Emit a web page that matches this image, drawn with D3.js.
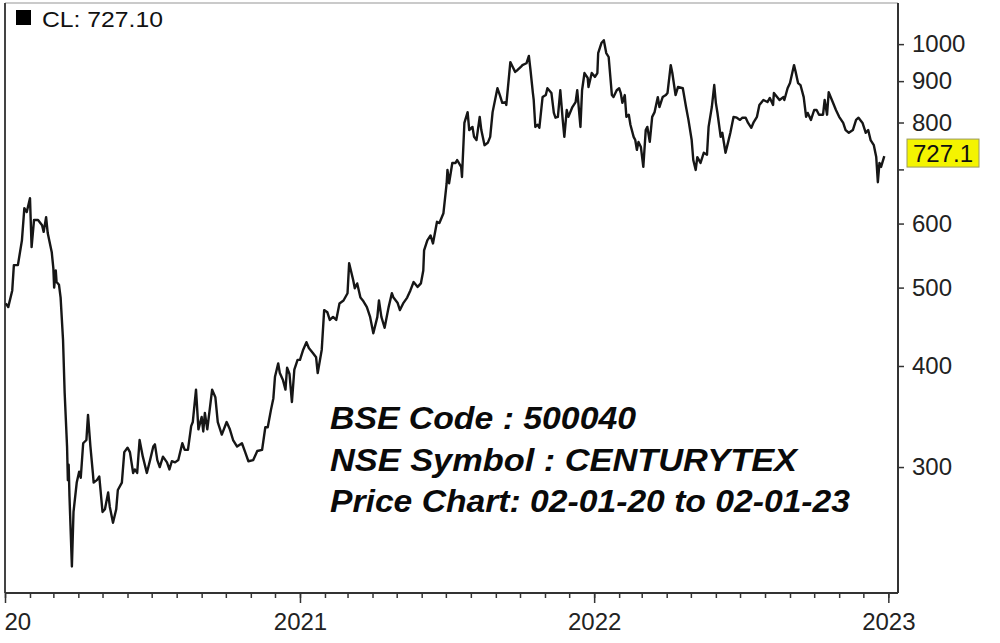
<!DOCTYPE html>
<html>
<head>
<meta charset="utf-8">
<script src="https://cdn.jsdelivr.net/npm/d3@7"></script>
<style>
  html, body { margin: 0; padding: 0; background: #fff; }
  svg { display: block; }
  text { font-family: Arial, "Liberation Sans", sans-serif; }
</style>
</head>
<body>
<svg id="chart" width="1000" height="643"></svg>
<script>
// ---------- DATA ----------
const dates = [
"2020-01-02","2020-01-05","2020-01-10","2020-01-12","2020-01-17","2020-01-22","2020-01-25","2020-01-28","2020-02-01","2020-02-03",
"2020-02-06","2020-02-11","2020-02-16","2020-02-18","2020-02-21","2020-02-23","2020-02-28","2020-03-01","2020-03-02","2020-03-04",
"2020-03-05","2020-03-08","2020-03-10","2020-03-13","2020-03-15","2020-03-18","2020-03-19","2020-03-20","2020-03-21","2020-03-24",
"2020-03-26","2020-03-30","2020-04-02","2020-04-04","2020-04-07","2020-04-11","2020-04-13","2020-04-16","2020-04-19","2020-04-20",
"2020-04-24","2020-04-27","2020-05-01","2020-05-04","2020-05-08","2020-05-10","2020-05-14","2020-05-18","2020-05-20","2020-05-25",
"2020-05-28","2020-06-01","2020-06-04","2020-06-08","2020-06-10","2020-06-13","2020-06-16","2020-06-20","2020-06-25","2020-06-29",
"2020-07-03","2020-07-05","2020-07-08","2020-07-11","2020-07-15","2020-07-20","2020-07-23","2020-07-26","2020-07-30","2020-08-03",
"2020-08-08","2020-08-11","2020-08-15","2020-08-19","2020-08-21","2020-08-25","2020-08-28","2020-09-01","2020-09-03","2020-09-05",
"2020-09-08","2020-09-14","2020-09-18","2020-09-21","2020-09-26","2020-10-02","2020-10-06","2020-10-10","2020-10-15","2020-10-21",
"2020-10-25","2020-10-29","2020-11-04","2020-11-09","2020-11-15","2020-11-19","2020-11-22","2020-11-26","2020-11-29","2020-12-01",
"2020-12-05","2020-12-07","2020-12-11","2020-12-14","2020-12-16","2020-12-19","2020-12-22","2020-12-25","2020-12-29","2021-01-01",
"2021-01-05","2021-01-09","2021-01-12","2021-01-17","2021-01-21","2021-01-23","2021-01-28","2021-01-31","2021-02-04","2021-02-07",
"2021-02-11","2021-02-15","2021-02-19","2021-02-24","2021-03-01","2021-03-03","2021-03-08","2021-03-10","2021-03-13","2021-03-17",
"2021-03-20","2021-03-25","2021-03-29","2021-04-02","2021-04-07","2021-04-09","2021-04-12","2021-04-16","2021-04-21","2021-04-25",
"2021-04-27","2021-05-02","2021-05-05","2021-05-09","2021-05-14","2021-05-18","2021-05-22","2021-05-27","2021-05-31","2021-06-03",
"2021-06-04","2021-06-08","2021-06-12","2021-06-15","2021-06-20","2021-06-23","2021-06-28","2021-07-02","2021-07-03","2021-07-05",
"2021-07-09","2021-07-13","2021-07-15","2021-07-20","2021-07-21","2021-07-24","2021-07-28","2021-07-30","2021-08-03","2021-08-05",
"2021-08-08","2021-08-12","2021-08-14","2021-08-18","2021-08-22","2021-08-25","2021-08-28","2021-09-03","2021-09-06","2021-09-09",
"2021-09-13","2021-09-14","2021-09-19","2021-09-22","2021-09-25","2021-09-28","2021-10-02","2021-10-04","2021-10-09","2021-10-12",
"2021-10-14","2021-10-17","2021-10-18","2021-10-20","2021-10-23","2021-10-25","2021-10-29","2021-11-02","2021-11-04","2021-11-09",
"2021-11-12","2021-11-14","2021-11-17","2021-11-20","2021-11-23","2021-11-25","2021-11-28","2021-11-30","2021-12-05","2021-12-09",
"2021-12-11","2021-12-15","2021-12-17","2021-12-20","2021-12-24","2021-12-25","2021-12-29","2022-01-02","2022-01-05","2022-01-06",
"2022-01-10","2022-01-13","2022-01-16","2022-01-19","2022-01-23","2022-01-25","2022-01-29","2022-02-01","2022-02-03","2022-02-05",
"2022-02-08","2022-02-10","2022-02-13","2022-02-15","2022-02-19","2022-02-21","2022-02-23","2022-02-25","2022-02-28","2022-03-03",
"2022-03-06","2022-03-08","2022-03-11","2022-03-14","2022-03-17","2022-03-21","2022-03-23","2022-03-27","2022-03-31","2022-04-02",
"2022-04-06","2022-04-08","2022-04-12","2022-04-15","2022-04-21","2022-04-25","2022-04-28","2022-05-02","2022-05-04","2022-05-07",
"2022-05-09","2022-05-13","2022-05-17","2022-05-21","2022-05-23","2022-05-27","2022-05-30","2022-06-01","2022-06-03","2022-06-07",
"2022-06-09","2022-06-13","2022-06-16","2022-06-19","2022-06-23","2022-06-27","2022-07-01","2022-07-04","2022-07-08","2022-07-11",
"2022-07-15","2022-07-18","2022-07-22","2022-07-25","2022-07-30","2022-08-04","2022-08-07","2022-08-11","2022-08-12","2022-08-17",
"2022-08-19","2022-08-24","2022-08-25","2022-08-29","2022-09-01","2022-09-06","2022-09-08","2022-09-11","2022-09-14","2022-09-18",
"2022-09-21","2022-09-23","2022-09-27","2022-10-01","2022-10-04","2022-10-07","2022-10-12","2022-10-14","2022-10-17","2022-10-19",
"2022-10-24","2022-10-28","2022-11-01","2022-11-06","2022-11-09","2022-11-13","2022-11-18","2022-11-22","2022-11-25","2022-11-30",
"2022-12-04","2022-12-07","2022-12-10","2022-12-14","2022-12-17","2022-12-19","2022-12-21","2022-12-23","2022-12-27"
];
const closes = [
478,473,496,533,533,572,627,620,645,561,
606,606,597,586,611,584,553,528,500,525,
508,504,486,431,371,318,289,302,276,226,
264,287,296,291,321,324,348,318,295,287,
289,292,264,266,279,268,256,266,281,287,
313,317,313,295,298,295,324,309,295,306,
318,320,306,300,309,304,298,305,304,306,
321,315,315,337,341,374,334,346,332,350,
334,374,366,341,329,341,334,324,318,321,
313,305,306,314,315,336,336,353,365,388,
403,392,384,374,398,391,361,396,407,407,
419,428,421,415,410,392,419,469,466,456,
460,456,478,482,492,536,511,499,506,486,
482,473,460,439,460,482,460,446,473,492,
486,479,469,478,486,496,508,501,506,525,
556,572,580,567,603,601,618,673,699,673,
713,713,719,705,685,799,824,783,790,768,
761,813,783,750,755,768,824,882,865,846,
848,841,950,937,924,929,937,942,947,967,
929,870,853,790,795,788,860,865,882,870,
822,811,813,877,806,768,829,813,836,848,
877,790,877,921,908,885,921,911,921,975,
1003,1011,975,964,865,860,877,882,870,846,
865,813,818,795,768,761,740,757,746,705,
783,790,757,813,824,860,836,860,865,870,
942,921,865,885,882,836,806,761,719,699,
725,713,734,730,790,836,890,846,822,768,
777,734,755,777,813,811,806,811,811,799,
788,801,813,841,853,848,858,841,870,858,
853,860,853,882,895,942,924,895,890,860,
813,822,806,829,829,818,818,853,818,872,
848,829,813,799,783,777,783,806,811,799,
777,783,761,750,725,675,713,705,727.1
];
const yTickValues = [300, 400, 500, 600, 700, 800, 900, 1000];
const hiddenTickLabels = [700];           // covered by the last-price box
const xYearTicks = ["2020-01-01", "2021-01-01", "2022-01-01", "2023-01-01"];
const xYearLabels = ["20", "2021", "2022", "2023"];   // first label shows only "20" at the left edge
const lastClose = 727.1;
const legendText = "CL: 727.10";
const infoLines = ["BSE Code : 500040", "NSE Symbol : CENTURYTEX", "Price Chart: 02-01-20 to 02-01-23"];

// ---------- CHART ----------
(function () {
const svg = d3.select("#chart");
const parse = d3.timeParse("%Y-%m-%d");
const data = dates.map((d, i) => ({ date: parse(d), v: closes[i] }));

const pL = 5, pR = 898, pT = 4, pB = 593;

const x = d3.scaleTime()
  .domain([parse("2020-01-01"), parse("2023-01-13")])
  .range([pL, pR]);
const y = d3.scaleLog()
  .domain([209.6, 1121])
  .range([pB, pT]);

// frame
svg.append("line").attr("x1", pL).attr("x2", pR).attr("y1", pT - 1).attr("y2", pT - 1)
  .attr("stroke", "#b8b8b8").attr("stroke-width", 1.5);
svg.append("line").attr("x1", pL).attr("x2", pL).attr("y1", pT - 1).attr("y2", pB)
  .attr("stroke", "#444").attr("stroke-width", 2);

// price line
const line = d3.line().x(d => x(d.date)).y(d => y(d.v)).curve(d3.curveLinear);
svg.append("path").datum(data)
  .attr("d", line)
  .attr("fill", "none")
  .attr("stroke", "#161616")
  .attr("stroke-width", 2.4)
  .attr("stroke-linejoin", "round");

// right axis
const yAxis = d3.axisRight(y)
  .tickValues(yTickValues)
  .tickSize(6)
  .tickPadding(8)
  .tickFormat(v => hiddenTickLabels.includes(v) ? "" : d3.format("d")(v));
const ya = svg.append("g").attr("transform", `translate(${pR},0)`).call(yAxis);
ya.select(".domain").attr("stroke", "#333").attr("stroke-width", 2).attr("d", `M0,${pT - 1}V${pB}`);
ya.selectAll(".tick line").attr("stroke", "#333").attr("stroke-width", 1.5);
ya.selectAll(".tick text").attr("font-size", 24).attr("fill", "#222")
  .attr("font-family", "Arial, 'Liberation Sans', sans-serif");

// bottom axis: monthly minor ticks
const monthTicks = d3.timeMonth.range(parse("2020-01-01"), parse("2023-01-02"));
const xMinor = d3.axisBottom(x).tickValues(monthTicks).tickSize(5).tickFormat("");
const xm = svg.append("g").attr("transform", `translate(0,${pB})`).call(xMinor);
xm.select(".domain").attr("stroke", "#333").attr("stroke-width", 2).attr("d", `M${pL},0H${pR}`);
xm.selectAll(".tick line").attr("stroke", "#333").attr("stroke-width", 1.5);

const xMajor = d3.axisBottom(x).tickValues(xYearTicks.map(parse)).tickSize(10).tickPadding(10)
  .tickFormat((d, i) => xYearLabels[i]);
const xM = svg.append("g").attr("transform", `translate(0,${pB})`).call(xMajor);
xM.select(".domain").remove();
xM.selectAll(".tick line").attr("stroke", "#333").attr("stroke-width", 1.5);
xM.selectAll(".tick text").attr("font-size", 24).attr("fill", "#222")
  .attr("font-family", "Arial, 'Liberation Sans', sans-serif")
  .attr("text-anchor", (d, i) => i === 0 ? "start" : "middle")
  .attr("dx", (d, i) => i === 0 ? -1 : 0);

// last price box
const ly = y(lastClose);
svg.append("rect").attr("x", pR + 9).attr("y", ly - 17).attr("width", 72).attr("height", 28)
  .attr("fill", "#f4f400").attr("stroke", "#9a9a60").attr("stroke-width", 1);
svg.append("text").attr("x", pR + 15).attr("y", ly + 6)
  .attr("font-size", 24).attr("fill", "#111").text(d3.format(".1f")(lastClose));

// legend
svg.append("rect").attr("x", 16).attr("y", 10).attr("width", 15).attr("height", 15).attr("fill", "#000");
svg.append("text").attr("x", 42).attr("y", 27).attr("font-size", 22)
  .attr("textLength", 121).attr("lengthAdjust", "spacingAndGlyphs")
  .attr("fill", "#111").text(legendText);

// info text
const infoBaselines = [429, 471, 512];
const infoWidths = [306, 467, 520];
infoLines.forEach((t, i) => {
  svg.append("text").attr("x", 330).attr("y", infoBaselines[i])
    .attr("font-size", 31).attr("font-weight", "bold").attr("font-style", "italic")
    .attr("textLength", infoWidths[i]).attr("lengthAdjust", "spacingAndGlyphs")
    .attr("fill", "#0a0a0a").text(t);
});
})();
</script>
</body>
</html>
